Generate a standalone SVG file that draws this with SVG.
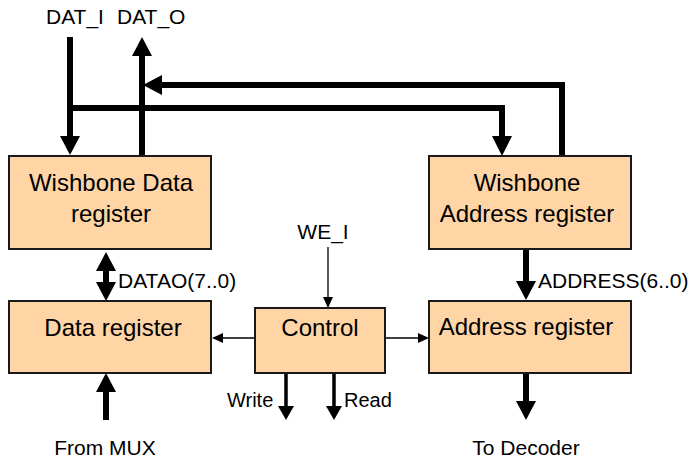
<svg xmlns="http://www.w3.org/2000/svg" width="692" height="458" viewBox="0 0 692 458">
  <defs>
    <style>
      .box { fill: #FFD5A6; stroke: #1a1a1a; stroke-width: 2; }
      .lbl { font-family: "Liberation Sans", Arial, sans-serif; font-size: 24px; fill: #000; text-anchor: middle; }
      .sig { font-family: "Liberation Sans", Arial, sans-serif; font-size: 21px; fill: #000; }
      .bus { fill: none; stroke: #000; stroke-width: 6; }
      .mid { fill: none; stroke: #000; stroke-width: 3.5; }
      .thin { fill: none; stroke: #000; stroke-width: 1.3; }
      .head { fill: #000; }
    </style>
  </defs>

  <!-- bus and signal connectors -->
  <g id="connectors">
    <!-- DAT_I down into the data register, with tap to address register -->
    <line class="bus" x1="70" y1="37" x2="70" y2="138"/>
    <polygon class="head" points="60,136 80,136 70,155"/>
    <polyline class="bus" points="70,108 502,108 502,138"/>
    <polygon class="head" points="492,136 512,136 502,156"/>

    <!-- DAT_O up out of the data register, address register feeding back -->
    <line class="bus" x1="142" y1="156" x2="142" y2="54"/>
    <polygon class="head" points="132,56 152,56 142,37"/>
    <polyline class="bus" points="562,156 562,85 160,85"/>
    <polygon class="head" points="162,75 162,95 143,85"/>

    <!-- DATAO(7..0) bidirectional -->
    <line class="bus" x1="106" y1="268" x2="106" y2="285"/>
    <polygon class="head" points="96,271 116,271 106,252"/>
    <polygon class="head" points="96,282 116,282 106,301"/>

    <!-- ADDRESS(6..0) -->
    <line class="bus" x1="526" y1="250" x2="526" y2="283"/>
    <polygon class="head" points="516,281 536,281 526,300"/>

    <!-- From MUX -->
    <line class="bus" x1="106" y1="420" x2="106" y2="390"/>
    <polygon class="head" points="96,392 116,392 106,373"/>

    <!-- To Decoder -->
    <line class="bus" x1="526" y1="374" x2="526" y2="403"/>
    <polygon class="head" points="516,401 536,401 526,420"/>

    <!-- WE_I into control -->
    <line class="thin" x1="328" y1="247" x2="328" y2="298"/>
    <polygon class="head" points="323,297 333,297 328,308"/>

    <!-- control outputs to the registers -->
    <line class="thin" x1="255" y1="338" x2="222" y2="338"/>
    <polygon class="head" points="223,333 223,343 212,338"/>
    <line class="thin" x1="385" y1="338" x2="418" y2="338"/>
    <polygon class="head" points="418,333 418,343 429,338"/>

    <!-- Write / Read strobes -->
    <line class="mid" x1="286" y1="374" x2="286" y2="408"/>
    <polygon class="head" points="278,406 294,406 286,420"/>
    <line class="mid" x1="334" y1="374" x2="334" y2="408"/>
    <polygon class="head" points="326,406 342,406 334,420"/>
  </g>

  <g id="wb-data-reg">
    <rect class="box" x="9" y="156" width="202" height="93"/>
    <text class="lbl" x="111" y="191">Wishbone Data</text>
    <text class="lbl" x="111" y="222">register</text>
  </g>

  <g id="wb-addr-reg">
    <rect class="box" x="429" y="156" width="202" height="93"/>
    <text class="lbl" x="527" y="191">Wishbone</text>
    <text class="lbl" x="527" y="222">Address register</text>
  </g>

  <g id="data-reg">
    <rect class="box" x="9" y="301" width="202" height="72"/>
    <text class="lbl" x="113" y="336">Data register</text>
  </g>

  <g id="control">
    <rect class="box" x="255" y="308" width="130" height="65"/>
    <text class="lbl" x="320" y="336">Control</text>
  </g>

  <g id="addr-reg">
    <rect class="box" x="429" y="301" width="202" height="72"/>
    <text class="lbl" x="526" y="335">Address register</text>
  </g>

  <!-- signal labels -->
  <g id="labels">
    <text class="sig" x="46" y="24">DAT_I</text>
    <text class="sig" x="117" y="24">DAT_O</text>
    <text class="sig" x="118" y="288">DATAO(7..0)</text>
    <text class="sig" x="538" y="288">ADDRESS(6..0)</text>
    <text class="sig" x="323" y="239" text-anchor="middle">WE_I</text>
    <text class="sig" x="227" y="407" style="font-size:20px">Write</text>
    <text class="sig" x="344" y="407" style="font-size:20px">Read</text>
    <text class="sig" x="105" y="455" text-anchor="middle">From MUX</text>
    <text class="sig" x="526" y="455" text-anchor="middle">To Decoder</text>
  </g>
</svg>
